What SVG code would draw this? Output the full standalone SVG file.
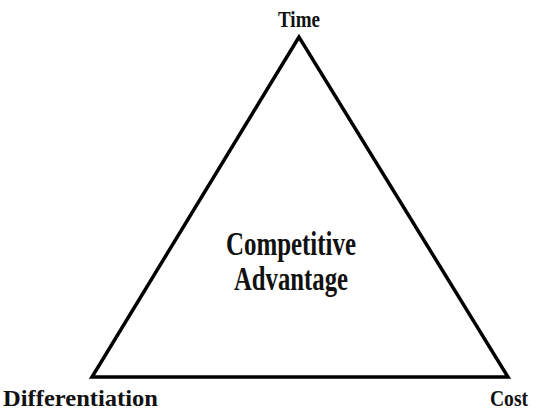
<svg xmlns="http://www.w3.org/2000/svg" width="538" height="411" viewBox="0 0 538 411">
<style>
text{font-family:"Liberation Serif","Times New Roman",serif;font-weight:bold;fill:#111}
.lab{font-size:24px}
.big{font-size:33px}
</style>
<rect width="538" height="411" fill="#fff"/>
<g id="connectors">
<polygon points="299,37 92,377 508,377" fill="none" stroke="#000" stroke-width="3.5" stroke-linejoin="miter"/>
</g>
<g id="time"><text class="lab" x="299" y="27" text-anchor="middle" textLength="42" lengthAdjust="spacingAndGlyphs">Time</text></g>
<g id="differentiation"><text class="lab" x="3" y="406" textLength="155" lengthAdjust="spacingAndGlyphs">Differentiation</text></g>
<g id="cost"><text class="lab" x="490" y="406" textLength="38" lengthAdjust="spacingAndGlyphs">Cost</text></g>
<g id="center">
<text class="big" x="291" y="255" text-anchor="middle" textLength="130" lengthAdjust="spacingAndGlyphs">Competitive</text>
<text class="big" x="291" y="290" text-anchor="middle" textLength="114" lengthAdjust="spacingAndGlyphs">Advantage</text>
</g>
</svg>
